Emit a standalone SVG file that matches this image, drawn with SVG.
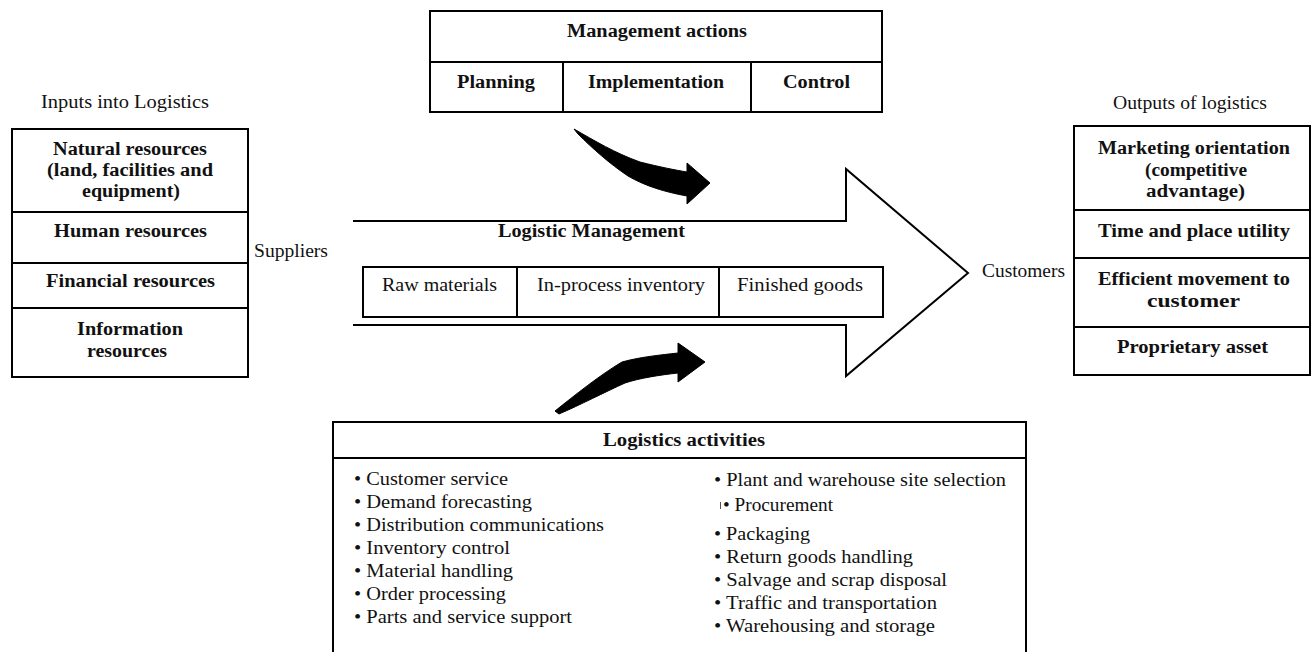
<svg xmlns="http://www.w3.org/2000/svg" width="1312" height="652" viewBox="0 0 1312 652">
<style>
.box{fill:none;stroke:#000;stroke-width:2}
.ln{stroke:#000;stroke-width:2;fill:none}
text{font-family:"Liberation Serif","Times New Roman",serif;fill:#111}
.b{font-weight:bold;font-size:18px}
.n{font-size:18px}
.l{font-size:18px}
.shape{fill:#000;stroke:#000;stroke-width:1;stroke-linejoin:round}
</style>
<rect width="1312" height="652" fill="#fff"/>

<g id="connectors">
<path class="ln" d="M353,221 H846 V169 L968,273 L846,376 V325 H353"/>
<path id="arrow-top" class="shape" d="M574,129 C595,141 615,153 640,162 C660,167 675,170 687,172 L687,163 L710,183 L687,204 L687,196 C665,192 645,186 628,176 C610,164 592,148 578,134 Z"/>
<path id="arrow-bottom" class="shape" d="M555,411 C575,395 600,375 622,362 C640,357 660,355 678,353 L678,343 L705,362 L678,382 L678,373 C660,375 640,378 625,383 C605,392 580,405 559,414 Z"/>
</g>

<g id="inputs">
<text class="n" x="41" y="108" textLength="168" lengthAdjust="spacingAndGlyphs">Inputs into Logistics</text>
<rect class="box" x="12" y="129" width="236" height="248"/>
<line class="ln" x1="12" y1="212" x2="248" y2="212"/>
<line class="ln" x1="12" y1="263" x2="248" y2="263"/>
<line class="ln" x1="12" y1="308" x2="248" y2="308"/>
<text class="b" x="53" y="155" textLength="154" lengthAdjust="spacingAndGlyphs">Natural resources</text>
<text class="b" x="47" y="176" textLength="166" lengthAdjust="spacingAndGlyphs">(land, facilities and</text>
<text class="b" x="82" y="197" textLength="98" lengthAdjust="spacingAndGlyphs">equipment)</text>
<text class="b" x="54" y="237" textLength="153" lengthAdjust="spacingAndGlyphs">Human resources</text>
<text class="b" x="46" y="287" textLength="169" lengthAdjust="spacingAndGlyphs">Financial resources</text>
<text class="b" x="77" y="335" textLength="106" lengthAdjust="spacingAndGlyphs">Information</text>
<text class="b" x="87" y="357" textLength="80" lengthAdjust="spacingAndGlyphs">resources</text>
</g>

<g id="suppliers">
<text class="n" x="254" y="257" textLength="74" lengthAdjust="spacingAndGlyphs">Suppliers</text>
</g>

<g id="management-actions">
<rect class="box" x="430" y="11" width="452" height="101"/>
<line class="ln" x1="430" y1="62" x2="882" y2="62"/>
<line class="ln" x1="563" y1="62" x2="563" y2="112"/>
<line class="ln" x1="751" y1="62" x2="751" y2="112"/>
<text class="b" x="567" y="37" textLength="180" lengthAdjust="spacingAndGlyphs">Management actions</text>
<text class="b" x="457" y="88" textLength="78" lengthAdjust="spacingAndGlyphs">Planning</text>
<text class="b" x="588" y="88" textLength="136" lengthAdjust="spacingAndGlyphs">Implementation</text>
<text class="b" x="783" y="88" textLength="67" lengthAdjust="spacingAndGlyphs">Control</text>
</g>

<g id="logistic-management">
<text class="b" x="498" y="237" textLength="187" lengthAdjust="spacingAndGlyphs">Logistic Management</text>
<rect class="box" x="363" y="267" width="520" height="50"/>
<line class="ln" x1="517" y1="267" x2="517" y2="317"/>
<line class="ln" x1="719" y1="267" x2="719" y2="317"/>
<text class="n" x="382" y="291" textLength="115" lengthAdjust="spacingAndGlyphs">Raw materials</text>
<text class="n" x="537" y="291" textLength="168" lengthAdjust="spacingAndGlyphs">In-process inventory</text>
<text class="n" x="737" y="291" textLength="126" lengthAdjust="spacingAndGlyphs">Finished goods</text>
</g>

<g id="customers">
<text class="n" x="982" y="277" textLength="83" lengthAdjust="spacingAndGlyphs">Customers</text>
</g>

<g id="outputs">
<text class="n" x="1113" y="109" textLength="154" lengthAdjust="spacingAndGlyphs">Outputs of logistics</text>
<rect class="box" x="1074" y="126" width="236" height="249"/>
<line class="ln" x1="1074" y1="210" x2="1310" y2="210"/>
<line class="ln" x1="1074" y1="258" x2="1310" y2="258"/>
<line class="ln" x1="1074" y1="327" x2="1310" y2="327"/>
<text class="b" x="1098" y="154" textLength="192" lengthAdjust="spacingAndGlyphs">Marketing orientation</text>
<text class="b" x="1145" y="176" textLength="102" lengthAdjust="spacingAndGlyphs">(competitive</text>
<text class="b" x="1146" y="197" textLength="99" lengthAdjust="spacingAndGlyphs">advantage)</text>
<text class="b" x="1098" y="237" textLength="192" lengthAdjust="spacingAndGlyphs">Time and place utility</text>
<text class="b" x="1098" y="285" textLength="192" lengthAdjust="spacingAndGlyphs">Efficient movement to</text>
<text class="b" x="1147" y="307" textLength="93" lengthAdjust="spacingAndGlyphs">customer</text>
<text class="b" x="1117" y="353" textLength="151" lengthAdjust="spacingAndGlyphs">Proprietary asset</text>
</g>

<g id="logistics-activities">
<rect class="box" x="333" y="422" width="693" height="240"/>
<line class="ln" x1="333" y1="458" x2="1026" y2="458"/>
<text class="b" x="603" y="446" textLength="162" lengthAdjust="spacingAndGlyphs">Logistics activities</text>
<text class="l" x="354" y="485" textLength="154" lengthAdjust="spacingAndGlyphs">• Customer service</text>
<text class="l" x="354" y="508" textLength="178" lengthAdjust="spacingAndGlyphs">• Demand forecasting</text>
<text class="l" x="354" y="531" textLength="250" lengthAdjust="spacingAndGlyphs">• Distribution communications</text>
<text class="l" x="354" y="554" textLength="156" lengthAdjust="spacingAndGlyphs">• Inventory control</text>
<text class="l" x="354" y="577" textLength="159" lengthAdjust="spacingAndGlyphs">• Material handling</text>
<text class="l" x="354" y="600" textLength="152" lengthAdjust="spacingAndGlyphs">• Order processing</text>
<text class="l" x="354" y="623" textLength="218" lengthAdjust="spacingAndGlyphs">• Parts and service support</text>
<text class="l" x="714" y="486" textLength="292" lengthAdjust="spacingAndGlyphs">• Plant and warehouse site selection</text>
<line x1="720.5" y1="502" x2="720.5" y2="509" stroke="#555" stroke-width="1"/>
<text class="l" x="723" y="511" textLength="110" lengthAdjust="spacingAndGlyphs">• Procurement</text>
<text class="l" x="714" y="540" textLength="96" lengthAdjust="spacingAndGlyphs">• Packaging</text>
<text class="l" x="714" y="563" textLength="199" lengthAdjust="spacingAndGlyphs">• Return goods handling</text>
<text class="l" x="714" y="586" textLength="233" lengthAdjust="spacingAndGlyphs">• Salvage and scrap disposal</text>
<text class="l" x="714" y="609" textLength="223" lengthAdjust="spacingAndGlyphs">• Traffic and transportation</text>
<text class="l" x="714" y="632" textLength="221" lengthAdjust="spacingAndGlyphs">• Warehousing and storage</text>
</g>
</svg>
